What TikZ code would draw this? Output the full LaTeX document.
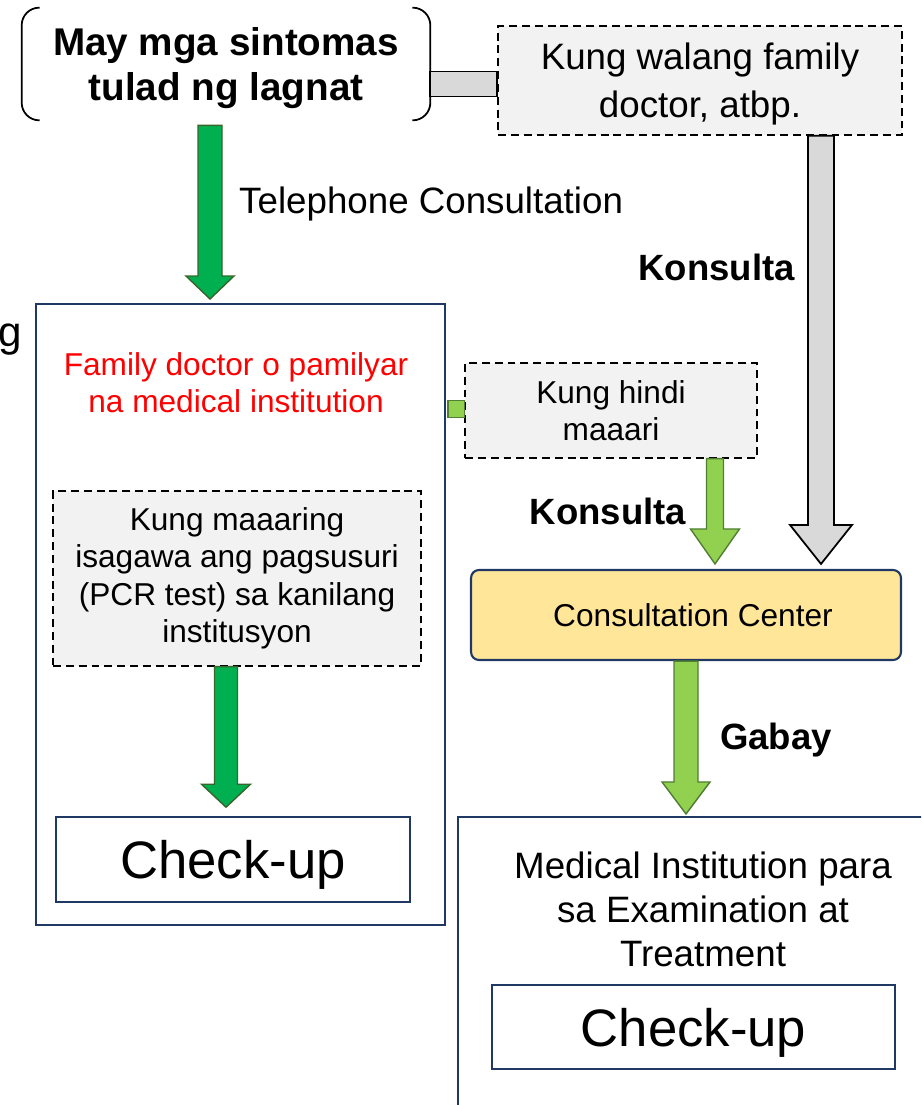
\documentclass[tikz,border=0pt]{standalone}
\usepackage{fontspec}
\setmainfont{Liberation Sans}
\usetikzlibrary{calc}

\definecolor{navy}{HTML}{203864}
\definecolor{dgreen}{HTML}{00B050}
\definecolor{dgreenline}{HTML}{38652A}
\definecolor{lgreen}{HTML}{92D050}
\definecolor{lgreenline}{HTML}{507E32}
\definecolor{barfill}{HTML}{D9D9D9}
\definecolor{notefill}{HTML}{F2F2F2}
\definecolor{ccfill}{HTML}{FFE699}

\newcommand{\fsreg}{\fontsize{20.9pt}{27.3pt}\selectfont}
\newcommand{\fsmed}{\fontsize{20.9pt}{25pt}\selectfont}
\newcommand{\fssmall}{\fontsize{18pt}{21.3pt}\selectfont}
\newcommand{\fstitle}{\bfseries\fontsize{22pt}{25.4pt}\selectfont}
\newcommand{\fslabel}{\bfseries\fontsize{20.8pt}{25pt}\selectfont}
\newcommand{\fscheck}{\fontsize{30pt}{36pt}\selectfont}

\tikzset{
  notebox/.style={draw=black, dashed, dash pattern=on 4.5pt off 2.8pt, line width=0.8pt,
    fill=notefill, inner sep=0pt, align=center},
  frame/.style={draw=navy, line width=1.2pt, inner sep=0pt},
  checkbox/.style={draw=navy, line width=0.9pt, inner sep=0pt, text depth=0pt, font=\fscheck},
  darrow/.style={fill=dgreen, draw=dgreenline, line width=0.8pt},
  larrow/.style={fill=lgreen, draw=lgreenline, line width=0.8pt},
  garrow/.style={fill=barfill, draw=black, line width=1pt}
}

% block arrow: style, start, tip, half shaft, half head, head length
\newcommand{\blockarrow}[6]{%
  \draw[#1] ($(#2)+(-#4,0)$) -- ($(#3)+(-#4,-#6)$) -- ($(#3)+(-#5,-#6)$) -- (#3)
    -- ($(#3)+(#5,-#6)$) -- ($(#3)+(#4,-#6)$) -- ($(#2)+(#4,0)$) -- cycle;}

\begin{document}
\begin{tikzpicture}[x=0.02cm,y=-0.02cm]
  \clip (0,0) rectangle (921,1105);

  % top row
  \node[inner sep=0pt, minimum width=8.16cm, minimum height=2.24cm, text depth=0pt,
    font=\fstitle, align=center] (title) at (226,64) {May mga sintomas\\tulad ng lagnat};
  \draw[line width=1pt, rounded corners=10pt] ($(title.north west)+(18,0)$) -- (title.north west)
    -- (title.south west) -- ($(title.south west)+(18,0)$);
  \draw[line width=1pt, rounded corners=10pt] ($(title.north east)+(-18,0)$) -- (title.north east)
    -- (title.south east) -- ($(title.south east)+(-18,0)$);

  \node[notebox, minimum width=8.08cm, minimum height=2.18cm, text depth=0pt, font=\fsreg]
    (nofam) at (700,80.5) {Kung walang family\\doctor, atbp.};
  \draw[garrow] ($(title.east |- nofam.west)+(0,-9)$) rectangle ($(nofam.west)+(0,16)$);

  \node[font=\fsreg, anchor=west] (tel) at (233,204.5) {Telephone Consultation};
  \node[font=\fslabel] (kon1) at (716.5,267) {Konsulta};

  % left column
  \node[font=\fontsize{24pt}{28pt}\selectfont, anchor=base east, inner sep=0pt] (cut) at (22,346) {g};
  \node[frame, minimum width=8.18cm, minimum height=12.42cm] (fam) at (240.5,614.5) {};
  \node[font=\fssmall, text=red, align=center] (famtxt) at (236,382.5)
    {Family doctor o pamilyar\\na medical institution};
  \node[notebox, minimum width=7.36cm, minimum height=3.5cm, font=\fssmall] (pcr) at (237,578.5)
    {Kung maaaring\\isagawa ang pagsusuri\\(PCR test) sa kanilang\\institusyon};
  \node[checkbox, minimum width=7.08cm, minimum height=1.7cm] (checkL) at (233,859.5) {Check-up};

  % right column
  \node[notebox, minimum width=5.84cm, minimum height=1.9cm, font=\fssmall] (hindi) at (611,410.5)
    {Kung hindi\\maaari};
  \draw[larrow] ($(fam.east |- hindi.west)+(2,-10)$) rectangle ($(hindi.west)+(0,7)$);
  \node[font=\fslabel] (kon2) at (608,511) {Konsulta};

  \node[draw=navy, line width=1.2pt, fill=ccfill, rounded corners=4.5pt, inner sep=0pt,
    minimum width=8.6cm, minimum height=1.8cm, font=\fssmall] (cc) at (686,615)
    {\hspace*{0.28cm}Consultation Center};
  \node[font=\fslabel] (gabay) at (776,740) {Gabay};

  \node[frame, minimum width=10.04cm, minimum height=6.26cm] (med) at (709,973.5) {};
  \node[font=\fsmed, align=center] (medtxt) at (703,909)
    {Medical Institution para\\sa Examination at\\Treatment};
  \node[checkbox, minimum width=8.06cm, minimum height=1.68cm] (checkR) at (693.5,1027) {Check-up};

  % arrows
  \coordinate (telS) at ($(title.south)+(-16,5)$);
  \coordinate (telT) at ($(fam.north)+(-30.5,-4)$);
  \blockarrow{darrow}{telS}{telT}{12}{24}{23}

  \coordinate (pcrS) at ($(pcr.south)+(-11,0)$);
  \coordinate (pcrT) at ($(checkL.north)+(-7,-9)$);
  \blockarrow{darrow}{pcrS}{pcrT}{11.5}{24.5}{23}

  \coordinate (konS) at ($(nofam.south)+(121,0)$);
  \coordinate (konT) at ($(cc.north)+(135,-5)$);
  \blockarrow{garrow}{konS}{konT}{13}{31}{39}

  \coordinate (hinS) at ($(hindi.south)+(104,0)$);
  \coordinate (hinT) at ($(cc.north)+(29,-5)$);
  \blockarrow{larrow}{hinS}{hinT}{8.5}{24.5}{35}

  \coordinate (gabS) at (cc.south);
  \coordinate (gabT) at ($(med.north)+(-23,-2)$);
  \blockarrow{larrow}{gabS}{gabT}{12}{24}{32}
\end{tikzpicture}
\end{document}
